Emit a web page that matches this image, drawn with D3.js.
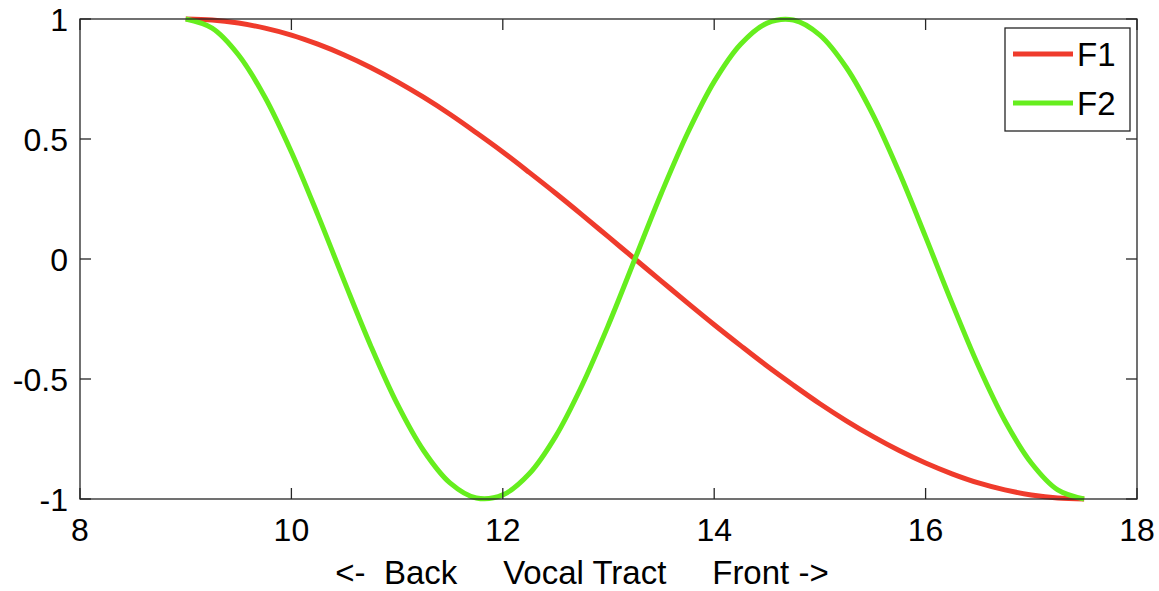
<!DOCTYPE html>
<html>
<head>
<meta charset="utf-8">
<title>Vocal tract formants</title>
<script src="https://d3js.org/d3.v7.min.js"></script>
<style>
    body { margin: 0; background: #fff; }
    svg text { font-family: "Liberation Sans", Arial, sans-serif; fill: #000; }
    .frame line, .frame rect { stroke: #262626; stroke-width: 1.3px; fill: none; }
</style>
</head>
<body>
<svg width="1159" height="591"></svg>
<script>

// position along the tract
var xs = [9, 9.25, 9.5, 9.75, 10, 10.25, 10.5, 10.75, 11, 11.25, 11.5, 11.75,
          12, 12.25, 12.5, 12.75, 13, 13.25, 13.5, 13.75, 14, 14.25, 14.5, 14.75,
          15, 15.25, 15.5, 15.75, 16, 16.25, 16.5, 16.75, 17, 17.25, 17.5];

var f1 = [1, 0.996, 0.983, 0.962, 0.933, 0.895, 0.850, 0.798, 0.739, 0.674, 0.603, 0.526,
          0.446, 0.361, 0.274, 0.184, 0.092, 0, -0.092, -0.184, -0.274, -0.361, -0.446, -0.526,
          -0.603, -0.674, -0.739, -0.798, -0.850, -0.895, -0.933, -0.962, -0.983, -0.996, -1];

var f2 = [1, 0.962, 0.850, 0.674, 0.446, 0.184, -0.092, -0.361, -0.603, -0.798, -0.933, -0.996,
          -0.983, -0.895, -0.739, -0.526, -0.274, 0, 0.274, 0.526, 0.739, 0.895, 0.983, 0.996,
          0.933, 0.798, 0.603, 0.361, 0.092, -0.184, -0.446, -0.674, -0.850, -0.962, -1];

var xTicks = [8, 10, 12, 14, 16, 18];
var yTicks = [-1, -0.5, 0, 0.5, 1];
var seriesNames = ["F1", "F2"];
var seriesColors = ["#ef3b2c", "#66ee1e"];

var svg = d3.select("svg"),
    width = +svg.attr("width"),
    height = +svg.attr("height");

var margin = {top: 19, right: 22, bottom: 92, left: 80};
var plotW = width - margin.left - margin.right,
    plotH = height - margin.top - margin.bottom;

var x = d3.scaleLinear().domain([8, 18]).range([0, plotW]);
var y = d3.scaleLinear().domain([-1, 1]).range([plotH, 0]);

var g = svg.append("g").attr("transform", "translate(" + margin.left + "," + margin.top + ")");

// curves
var line = d3.line()
    .x(function(d) { return x(d[0]); })
    .y(function(d) { return y(d[1]); })
    .curve(d3.curveCatmullRom);

[f1, f2].forEach(function(vals, i) {
    var pts = xs.map(function(v, j) { return [v, vals[j]]; });
    g.append("path")
        .datum(pts)
        .attr("fill", "none")
        .attr("stroke", seriesColors[i])
        .attr("stroke-width", 5)
        .attr("d", line);
});

// box with inward ticks on all four sides
var frame = g.append("g").attr("class", "frame");
frame.append("rect").attr("width", plotW).attr("height", plotH);

var tl = 11;
xTicks.forEach(function(t) {
    frame.append("line").attr("x1", x(t)).attr("x2", x(t)).attr("y1", plotH).attr("y2", plotH - tl);
    frame.append("line").attr("x1", x(t)).attr("x2", x(t)).attr("y1", 0).attr("y2", tl);
    g.append("text")
        .attr("x", x(t)).attr("y", plotH + 42)
        .attr("text-anchor", "middle")
        .style("font-size", "32px")
        .text(t);
});
yTicks.forEach(function(t) {
    frame.append("line").attr("x1", 0).attr("x2", tl).attr("y1", y(t)).attr("y2", y(t));
    frame.append("line").attr("x1", plotW).attr("x2", plotW - tl).attr("y1", y(t)).attr("y2", y(t));
    g.append("text")
        .attr("x", -12).attr("y", y(t))
        .attr("dy", "0.36em")
        .attr("text-anchor", "end")
        .style("font-size", "32px")
        .text(t);
});

// x axis label
svg.append("text")
    .attr("x", 582).attr("y", 584)
    .attr("text-anchor", "middle")
    .style("font-size", "33px")
    .style("white-space", "pre")
    .text("<-  Back     Vocal Tract     Front ->");

// legend
var leg = svg.append("g").attr("class", "frame");
leg.append("rect").attr("x", 1005).attr("y", 28).attr("width", 125).attr("height", 103);
seriesNames.forEach(function(name, i) {
    var ly = 54 + i * 49;
    svg.append("line")
        .attr("x1", 1013).attr("x2", 1073)
        .attr("y1", ly).attr("y2", ly)
        .attr("stroke", seriesColors[i])
        .attr("stroke-width", 5);
    svg.append("text")
        .attr("x", 1077).attr("y", ly)
        .attr("dy", "0.36em")
        .style("font-size", "33px")
        .text(name);
});
</script>
</body>
</html>
